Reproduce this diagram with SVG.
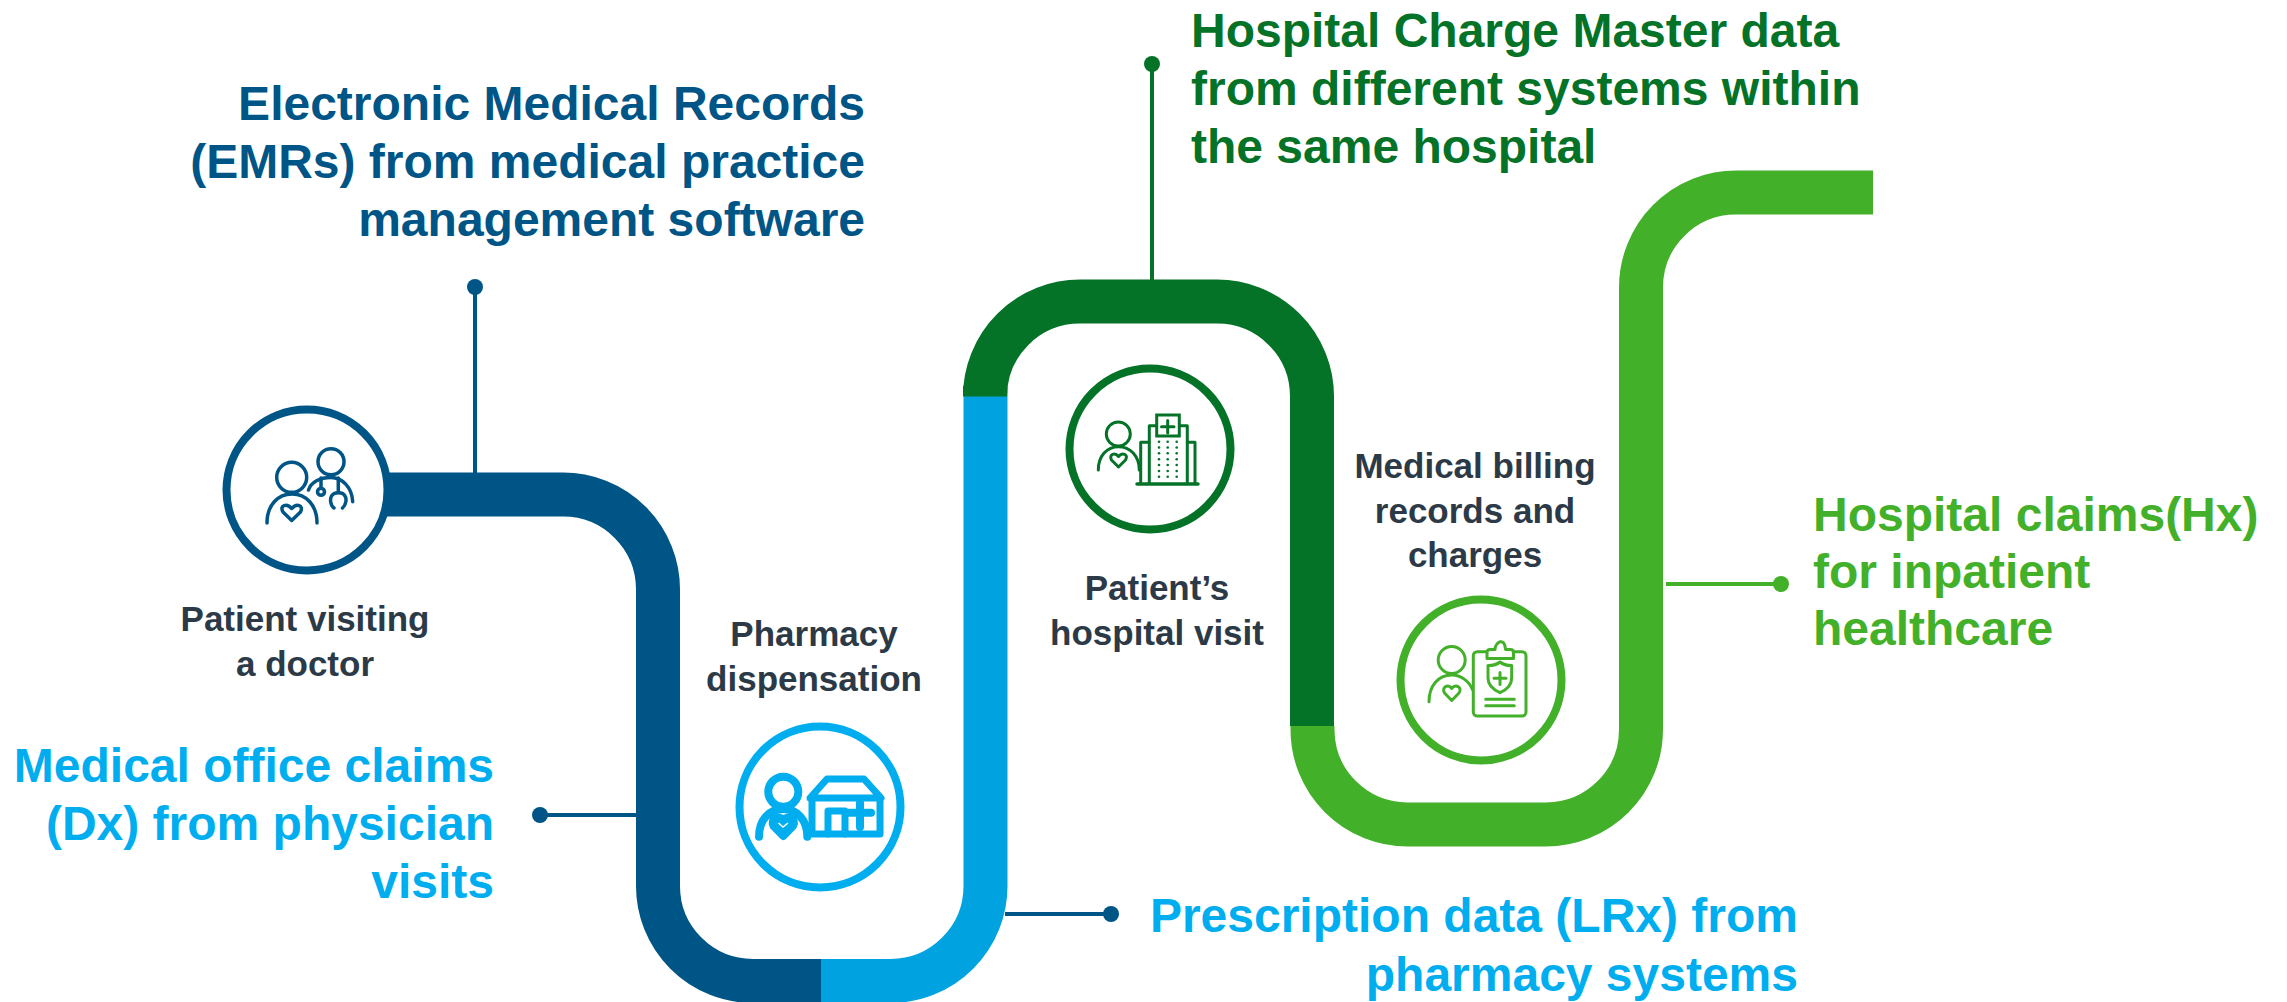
<svg xmlns="http://www.w3.org/2000/svg" width="2287" height="1002" viewBox="0 0 2287 1002">
<style>
text{font-family:"Liberation Sans",Arial,sans-serif;font-weight:700}
.big{font-size:48px}
.small{font-size:35px;fill:#2c3a47;text-anchor:middle}
.end{text-anchor:end}
.rb{fill:none;stroke-width:44}
.ring{fill:#fff;stroke-width:8}
.ic{fill:none;stroke-linecap:round;stroke-linejoin:round}
.db{stroke:#005587}.lb{stroke:#00a3e0}.lbi{stroke:#00aeef}.dg{stroke:#047227}.g{stroke:#43b02a}
.tdb{fill:#005587}.tlb{fill:#00aeef}.tdg{fill:#047227}.tg{fill:#43b02a}
</style>
<rect width="2287" height="1002" fill="#fff"/>
<g id="connectors">
<path d="M475 287V474" class="db" stroke-width="4" fill="none"/><circle cx="475" cy="287" r="8" class="tdb"/>
<path d="M540 815H638" class="db" stroke-width="4" fill="none"/><circle cx="540" cy="815" r="8" class="tdb"/>
<path d="M1005 914H1111" class="db" stroke-width="4" fill="none"/><circle cx="1111" cy="914" r="8" class="tdb"/>
<path d="M1152 64V282" class="dg" stroke-width="4" fill="none"/><circle cx="1152" cy="64" r="8" class="tdg"/>
<path d="M1666 584H1781" class="g" stroke-width="4" fill="none"/><circle cx="1781" cy="584" r="8" class="tg"/>
</g>
<g id="ribbon">
<path class="rb db" d="M307 494.5H563A95 95 0 0 1 658 589.5V886A95 95 0 0 0 753 981H821"/>
<path class="rb lb" d="M821 981H890.500A95 95 0 0 0 985.500 886V386"/>
<path class="rb dg" d="M985 386V396.500A95 95 0 0 1 1080 301.500H1217A95 95 0 0 1 1312 396.500V726"/>
<path class="rb g" d="M1312.500 726V729.500A95 95 0 0 0 1407.500 824.500H1546A95 95 0 0 0 1641 729.500V287.500A95 95 0 0 1 1736 192.500H1873"/>
</g>
<g id="node-doctor">
<circle class="ring db" cx="307" cy="490" r="80.500"/>
<g class="ic db" stroke-width="3.500">
<circle cx="291.700" cy="477.300" r="15"/>
<path d="M267 523C267 505 278 494 292 494C306 494 317 505 317 523"/>
<path d="M291.700 520.500L283 512C279 505 287 503 291.700 508.500C296.500 503 304 505 300.500 512Z"/>
<circle cx="331" cy="461.700" r="13"/>
<path d="M308.500 490C311 482 320 477.500 331 477.500C342 477.500 352 487 352.700 501.700"/>
<path d="M321 478V488"/><circle cx="321" cy="491.700" r="3.500"/>
<path d="M338.300 478V492"/>
<path d="M334 508C330 505 330 499 331.500 496C334 491.500 343 491.500 345 496C347 499 346 505 342.500 508"/>
</g>
<text class="small" x="305" y="631">Patient visiting</text>
<text class="small" x="305" y="676">a doctor</text>
</g>
<g id="node-pharmacy">
<circle class="ring lbi" cx="820" cy="807" r="80.500"/>
<g class="ic lbi" stroke-width="8">
<circle cx="783.300" cy="791.700" r="15"/>
<path d="M759 836.700C759 820 769 809 783.300 809C797 809 807.300 820 807.300 836.700"/>
<path d="M783.300 836L773.500 826C770 818 779 815 783.300 820C788 815 797 818 793 826Z" fill="#00aeef"/>
<path d="M810 798L827 779H864L881 798Z" stroke-width="7"/>
<path d="M812 798V834H880V798" stroke-width="7"/>
<path d="M828 834V811H845V834" stroke-width="7"/>
<path d="M849 812.700H871M860 803V827"/>
</g>
<path d="M778.500 823L783 827L788 823" fill="none" stroke="#fff" stroke-width="1.500"/>
<text class="small" x="814" y="646">Pharmacy</text>
<text class="small" x="814" y="691">dispensation</text>
</g>
<g id="node-hospital">
<circle class="ring dg" cx="1150" cy="449" r="80.500"/>
<g class="ic dg" stroke-width="3">
<circle cx="1118.300" cy="434" r="12"/>
<path d="M1098.300 470C1098.300 456 1107 446.700 1118.500 446.700C1130 446.700 1139.300 456 1139.300 470"/>
<path d="M1118.500 467L1111.500 460C1108.500 454 1115 452 1118.500 456.500C1122 452 1129 454 1125.500 460Z"/>
<path d="M1156.700 425.700H1149.300V483M1179.300 425.700H1187.300V483"/>
<path d="M1149 442.300H1140.700V483M1187.300 442.300H1195V483"/>
<path d="M1137 484H1198" stroke-width="3.500"/>
<rect x="1156.700" y="415" width="22.600" height="21" fill="#fff" stroke-linejoin="miter"/>
<path d="M1167.700 420.500V433M1161.500 426.700H1174"/>
</g>
<g class="tdg">
<circle cx="1159" cy="441.700" r="1.300"/><circle cx="1167.700" cy="441.700" r="1.300"/><circle cx="1176.700" cy="441.700" r="1.300"/>
<circle cx="1159" cy="447.500" r="1.300"/><circle cx="1167.700" cy="447.500" r="1.300"/><circle cx="1176.700" cy="447.500" r="1.300"/>
<circle cx="1159" cy="453.300" r="1.300"/><circle cx="1167.700" cy="453.300" r="1.300"/><circle cx="1176.700" cy="453.300" r="1.300"/>
<circle cx="1159" cy="459.300" r="1.300"/><circle cx="1167.700" cy="459.300" r="1.300"/><circle cx="1176.700" cy="459.300" r="1.300"/>
<circle cx="1159" cy="465" r="1.300"/><circle cx="1167.700" cy="465" r="1.300"/><circle cx="1176.700" cy="465" r="1.300"/>
<circle cx="1159" cy="471" r="1.300"/><circle cx="1167.700" cy="471" r="1.300"/><circle cx="1176.700" cy="471" r="1.300"/>
<circle cx="1159" cy="476.700" r="1.300"/><circle cx="1167.700" cy="476.700" r="1.300"/><circle cx="1176.700" cy="476.700" r="1.300"/>
</g>
<text class="small" x="1157" y="600">Patient’s</text>
<text class="small" x="1157" y="645">hospital visit</text>
</g>
<g id="node-billing">
<circle class="ring g" cx="1481" cy="680" r="80.500"/>
<g class="ic g" stroke-width="3">
<circle cx="1451.700" cy="660" r="13.500"/>
<path d="M1429 701.700C1429 686 1438 675 1451.700 675C1461 675 1469 681 1472.700 690"/>
<path d="M1451.700 700.500L1444.500 693C1441 687 1448.500 683.500 1451.700 688.500C1455 683.500 1463 687 1459 693Z"/>
<rect x="1473.300" y="651.700" width="52.700" height="64.300" rx="4"/>
<path d="M1487 658.500V652.500Q1487 649.500 1490 649.500H1495C1495 642 1505 636.500 1505.500 649.500H1510.500Q1513.500 649.500 1513.500 652.500V658.500Z" fill="#fff"/>
<path d="M1488 665.500Q1496 665.500 1500 662Q1504 665.500 1511.700 665.500V678C1511.700 685 1506 690 1500 692.700C1494 690 1488 685 1488 678Z"/>
<path d="M1500 672.500V684.500M1494 678.300H1506"/>
<path d="M1485.700 699.300H1514.300M1485.700 705.700H1514.300"/>
</g>
<text class="small" x="1475" y="478">Medical billing</text>
<text class="small" x="1475" y="523">records and</text>
<text class="small" x="1475" y="567">charges</text>
</g>
<g id="label-emr" class="tdb">
<text class="big end" x="865" y="120">Electronic Medical Records</text>
<text class="big end" x="865" y="178">(EMRs) from medical practice</text>
<text class="big end" x="865" y="236">management software</text>
</g>
<g id="label-charge" class="tdg">
<text class="big" x="1191" y="47">Hospital Charge Master data</text>
<text class="big" x="1191" y="105">from different systems within</text>
<text class="big" x="1191" y="163">the same hospital</text>
</g>
<g id="label-dx" class="tlb">
<text class="big end" x="494" y="782">Medical office claims</text>
<text class="big end" x="494" y="840">(Dx) from physician</text>
<text class="big end" x="494" y="898">visits</text>
</g>
<g id="label-lrx" class="tlb">
<text class="big end" x="1798" y="932">Prescription data (LRx) from</text>
<text class="big end" x="1798" y="991">pharmacy systems</text>
</g>
<g id="label-hx" class="tg">
<text class="big" x="1813" y="531">Hospital claims(Hx)</text>
<text class="big" x="1813" y="588">for inpatient</text>
<text class="big" x="1813" y="645">healthcare</text>
</g>
</svg>
